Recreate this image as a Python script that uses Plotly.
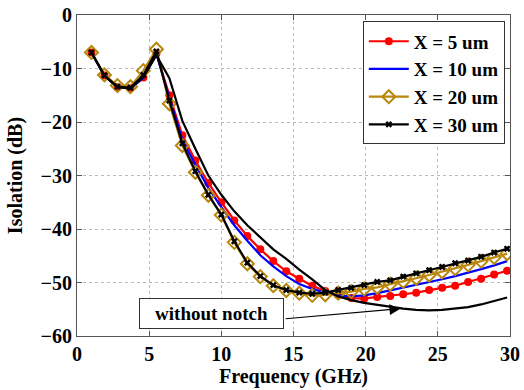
import plotly.graph_objects as go

freq = [1.0, 1.9, 2.8, 3.7, 4.6, 5.5, 6.4, 7.3, 8.2, 9.1, 10.0, 10.9, 11.8, 12.7,
        13.6, 14.5, 15.4, 16.3, 17.2, 18.1, 19.0, 19.9, 20.8, 21.7, 22.6, 23.5,
        24.4, 25.3, 26.2, 27.1, 28.0, 28.9, 29.8]

x5 = [-7.0, -11.3, -13.5, -13.7, -11.7, -7.2, -15.0, -22.5, -27.2, -31.4, -35.0,
      -38.4, -41.3, -43.8, -46.0, -47.9, -49.3, -50.6, -51.6, -52.4, -52.9, -53.0,
      -52.7, -52.5, -52.2, -51.9, -51.4, -51.0, -50.6, -49.9, -49.3, -48.5, -47.8]

x10 = [-7.0, -11.3, -13.5, -13.7, -11.8, -7.3, -15.5, -23.3, -28.0, -32.3, -35.9,
       -39.3, -42.2, -44.9, -47.0, -48.8, -50.3, -51.2, -51.9, -52.4, -52.6, -52.4,
       -52.0, -51.5, -51.0, -50.5, -49.9, -49.4, -48.8, -48.2, -47.5, -46.8, -46.0]

x20 = [-7.0, -11.2, -13.2, -13.4, -10.4, -6.4, -16.6, -24.4, -29.4, -33.7, -37.4,
       -42.5, -46.5, -48.9, -50.6, -51.5, -52.0, -52.4, -52.3, -52.0, -51.7, -51.2,
       -50.9, -50.3, -49.8, -49.2, -48.6, -48.0, -47.4, -46.7, -46.0, -45.3, -44.6]

x30 = [-7.0, -11.3, -13.4, -13.6, -11.2, -6.8, -16.0, -24.0, -29.2, -33.6, -37.3,
       -42.3, -46.3, -48.8, -50.5, -51.4, -51.9, -52.1, -51.9, -51.4, -51.0, -50.5,
       -49.9, -49.6, -48.9, -48.3, -47.7, -47.1, -46.4, -45.9, -45.2, -44.4, -43.7]

without_notch = [-7.0, -11.3, -13.5, -13.7, -11.6, -7.5, -11.8, -19.8, -25.0, -30.0,
                 -33.6, -36.7, -39.3, -41.6, -43.8, -45.6, -47.6, -49.4, -51.4, -52.6,
                 -53.3, -53.8, -54.2, -54.5, -54.9, -55.1, -55.2, -55.1, -54.9, -54.6,
                 -54.1, -53.5, -52.8]

series_names = ["X = 5 um", "X = 10 um", "X = 20 um", "X = 30 um"]
x_ticks = [0, 5, 10, 15, 20, 25, 30]
y_ticks = [0, -10, -20, -30, -40, -50, -60]
y_ticktext = ["0", "\u221210", "\u221220", "\u221230", "\u221240", "\u221250", "\u221260"]

FONT = "Liberation Serif"
GOLD = "#B8860B"

fig = go.Figure()
fig.add_trace(go.Scatter(x=freq, y=x5, name=f"<b>{series_names[0]}</b>", mode="lines+markers",
                         line=dict(color="#FF0000", width=2.2),
                         marker=dict(symbol="circle", size=8, color="#FF0000")))
fig.add_trace(go.Scatter(x=freq, y=x10, name=f"<b>{series_names[1]}</b>", mode="lines",
                         line=dict(color="#0000FF", width=2.2)))
fig.add_trace(go.Scatter(x=freq, y=x20, name=f"<b>{series_names[2]}</b>", mode="lines+markers",
                         line=dict(color=GOLD, width=2.2),
                         marker=dict(symbol="diamond-open", size=10, color=GOLD,
                                     line=dict(width=2, color=GOLD))))
fig.add_trace(go.Scatter(x=freq, y=x30, name=f"<b>{series_names[3]}</b>", mode="lines+markers",
                         line=dict(color="#000000", width=2.2),
                         marker=dict(symbol="x", size=6, color="#000000")))
fig.add_trace(go.Scatter(x=freq, y=without_notch, name="without notch", mode="lines",
                         line=dict(color="#000000", width=2.2), showlegend=False))

# arrow
fig.add_annotation(x=22.4, y=-54.9, ax=14.35, ay=-56.8, xref="x", yref="y",
                   axref="x", ayref="y", text="", showarrow=True,
                   arrowhead=2, arrowsize=1.8, arrowwidth=1.2, arrowcolor="#000000",
                   standoff=0)
# label box
fig.add_annotation(x=9.3, y=-55.8, xref="x", yref="y", text="<b>without notch</b>",
                   showarrow=False, font=dict(family=FONT, size=19, color="#000000"),
                   bgcolor="#FFFFFF", bordercolor="#333333", borderwidth=1,
                   width=141, height=27, borderpad=1)

axis_common = dict(showline=True, linecolor="#555555", linewidth=1, mirror="ticks",
                   ticks="inside", ticklen=5, tickcolor="#555555",
                   showgrid=True, gridcolor="#BBBBBB", griddash="dot", gridwidth=1,
                   zeroline=False, automargin=False,
                   tickfont=dict(family=FONT, size=20, color="#000000"))

fig.update_xaxes(range=[0, 30], tickvals=x_ticks, ticktext=[f"<b>{v}</b>" for v in x_ticks],
                 title=dict(text="<b>Frequency (GHz)</b>", font=dict(family=FONT, size=20, color="#000000"),
                            standoff=0),
                 **axis_common)
fig.update_yaxes(range=[-60, 0], tickvals=y_ticks, ticktext=[f"<b>{t}</b>" for t in y_ticktext],
                 title=dict(text="<b>Isolation (dB)</b>", font=dict(family=FONT, size=20, color="#000000"),
                            standoff=12),
                 **axis_common)

fig.update_layout(
    width=524, height=390,
    margin=dict(l=77, r=14, t=15, b=54, autoexpand=False),
    plot_bgcolor="#FFFFFF", paper_bgcolor="#FFFFFF",
    font=dict(family=FONT, color="#000000"),
    legend=dict(x=0.988, y=0.98, xanchor="right", yanchor="top",
                bgcolor="#FFFFFF", bordercolor="#333333", borderwidth=1,
                font=dict(family=FONT, size=19, color="#000000"),
                itemwidth=40, tracegroupgap=0),
)

fig.write_html("out.html")
